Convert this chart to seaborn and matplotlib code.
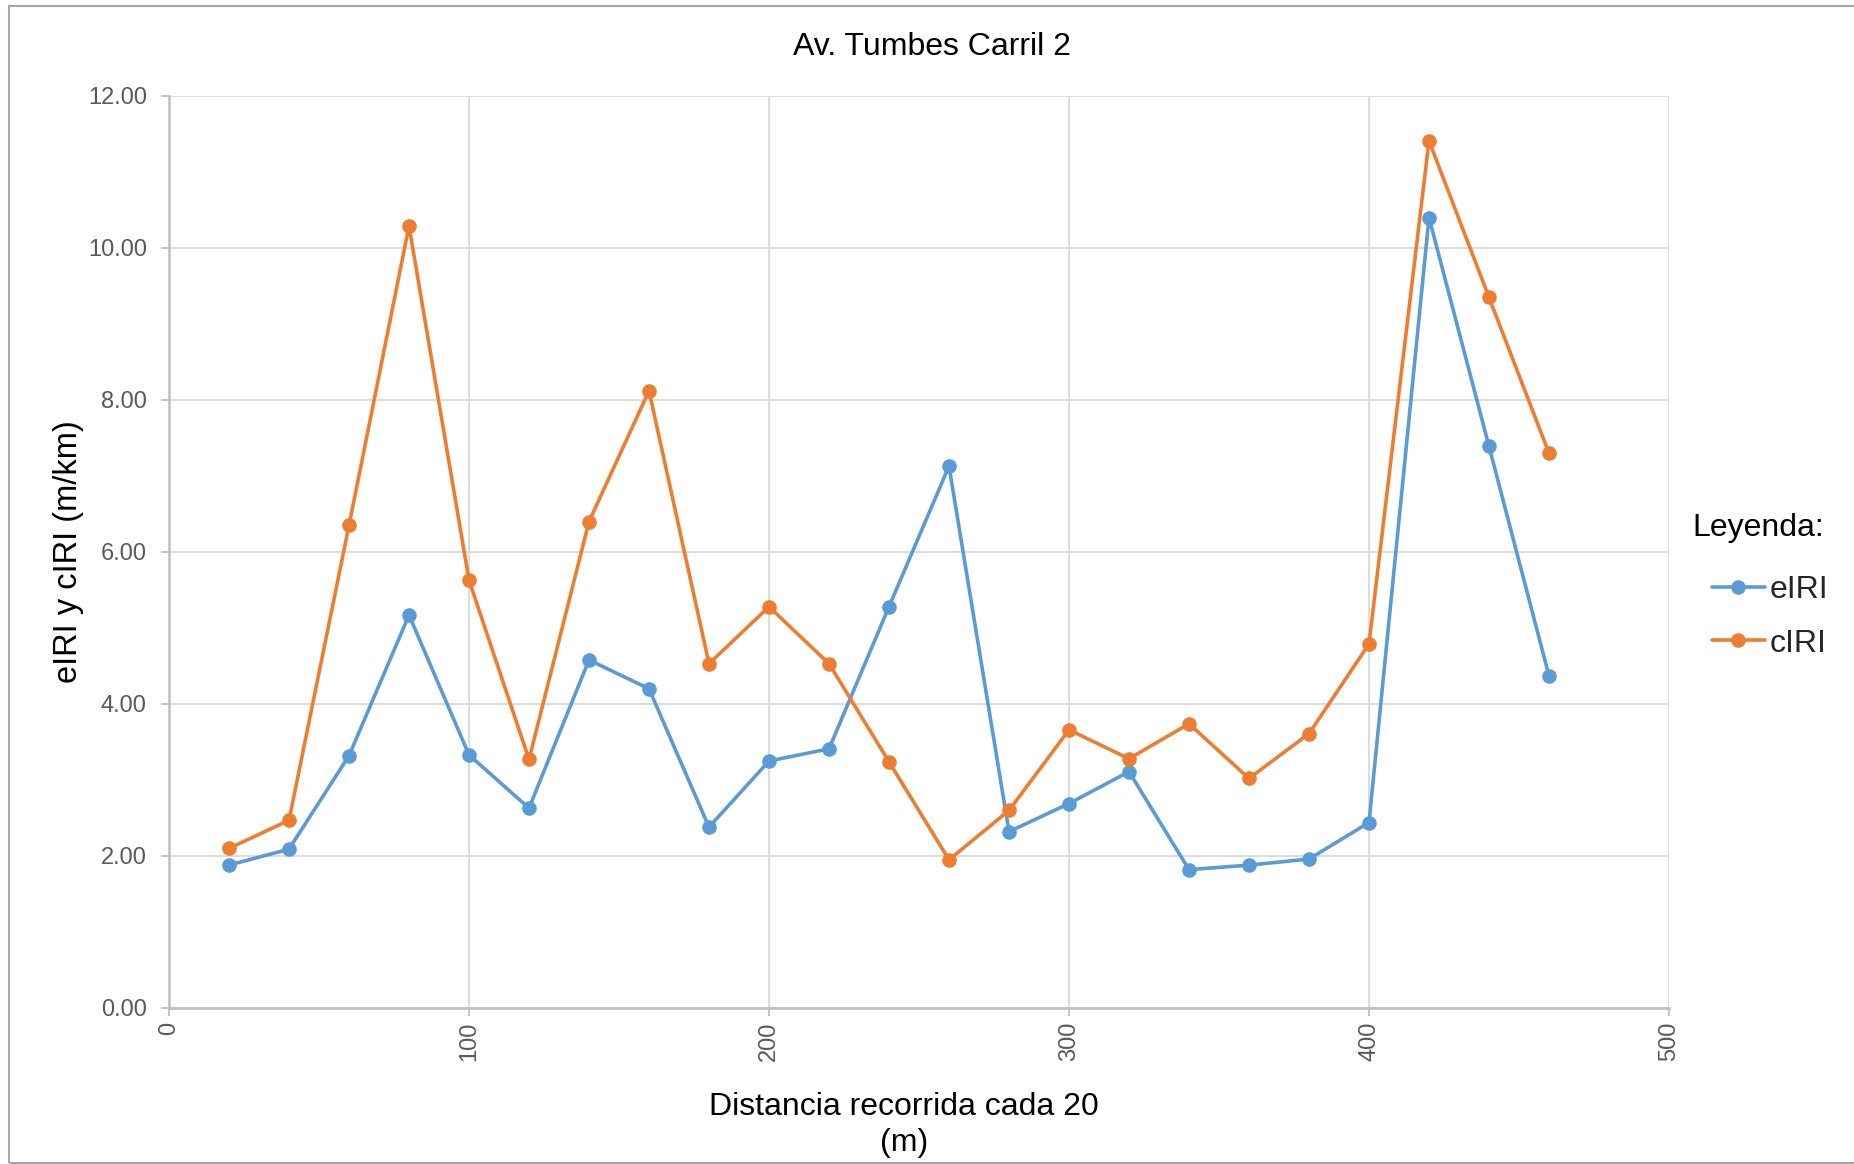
import matplotlib
matplotlib.use("Agg")
import matplotlib.pyplot as plt
import seaborn as sns
import pandas as pd
from matplotlib.patches import Rectangle

distancia = [20, 40, 60, 80, 100, 120, 140, 160, 180, 200, 220, 240,
             260, 280, 300, 320, 340, 360, 380, 400, 420, 440, 460]
eIRI = [1.88, 2.09, 3.32, 5.17, 3.33, 2.63, 4.58, 4.20, 2.38, 3.25, 3.41, 5.28,
        7.13, 2.32, 2.69, 3.11, 1.82, 1.88, 1.96, 2.44, 10.40, 7.39, 4.37]
cIRI = [2.10, 2.47, 6.35, 10.29, 5.63, 3.27, 6.40, 8.12, 4.53, 5.28, 4.53, 3.24,
        1.95, 2.60, 3.66, 3.28, 3.74, 3.02, 3.61, 4.79, 11.41, 9.35, 7.30]
series_names = ["eIRI", "cIRI"]
colors = ["#5B9BD5", "#ED7D31"]
x_ticks = [0, 100, 200, 300, 400, 500]
y_ticks = [0, 2, 4, 6, 8, 10, 12]

df = pd.concat([
    pd.DataFrame({"x": distancia, "y": eIRI, "serie": "eIRI"}),
    pd.DataFrame({"x": distancia, "y": cIRI, "serie": "cIRI"}),
])

sns.set_style("white")
plt.rcParams["font.family"] = ["Liberation Sans", "DejaVu Sans"]

W, H = 1854, 1164
fig = plt.figure(figsize=(W / 100, H / 100), dpi=100)
ax = fig.add_axes([169 / W, 1 - 1008 / H, 1500 / W, 912 / H])

sns.lineplot(data=df, x="x", y="y", hue="serie", hue_order=series_names,
             palette=colors, marker="o", markersize=10.5, markeredgewidth=0,
             linewidth=2.6, ax=ax, legend=True, zorder=3)

ax.set_xlim(0, 500)
ax.set_ylim(0, 12)
ax.set_xticks(x_ticks)
ax.set_yticks(y_ticks)
ax.set_xticklabels([str(t) for t in x_ticks], rotation=90, fontsize=17, color="#595959")
ax.set_yticklabels([f"{t:.2f}" for t in y_ticks], fontsize=17, color="#595959")
ax.grid(True, color="#D9D9D9", linewidth=1.3, zorder=0)
ax.set_axisbelow(True)
for s in ["top", "right"]:
    ax.spines[s].set_visible(False)
for s in ["left", "bottom"]:
    ax.spines[s].set_color("#BFBFBF")
    ax.spines[s].set_linewidth(1.8)
ax.tick_params(axis="both", which="both", length=6, width=1.3, color="#BFBFBF",
               direction="out", left=True, bottom=True)
ax.tick_params(axis="y", pad=10)
ax.tick_params(axis="x", pad=4)

ax.set_xlabel("")
ax.set_ylabel("eIRI y cIRI (m/km)", fontsize=23.5, color="black", labelpad=3)
fig.text(904 / W, 1 - 1125 / H, "Distancia recorrida cada 20\n(m)", ha="center",
         va="center", fontsize=23, color="black", linespacing=1.3)
fig.text(932 / W, 1 - 47 / H, "Av. Tumbes Carril 2", ha="center", va="center",
         fontsize=23, color="black")

handles, labels = ax.get_legend_handles_labels()
ax.get_legend().remove()
fig.legend(handles, labels, loc="center left",
           bbox_to_anchor=(1712 / W, 1 - 617 / H), bbox_transform=fig.transFigure,
           frameon=False, fontsize=23, handlelength=1.65, handletextpad=0.15,
           labelspacing=0.72, borderpad=0, borderaxespad=0)
fig.text(1692 / W, 1 - 528 / H, "Leyenda:", ha="left", va="center",
         fontsize=23, color="black")

fig.patches.append(Rectangle((9 / W, 1 / H), 1900 / W, 1157 / H,
                             transform=fig.transFigure, fill=False,
                             edgecolor="#A6A6A6", linewidth=1.5))

fig.savefig("out.png", dpi=100, facecolor="white")
